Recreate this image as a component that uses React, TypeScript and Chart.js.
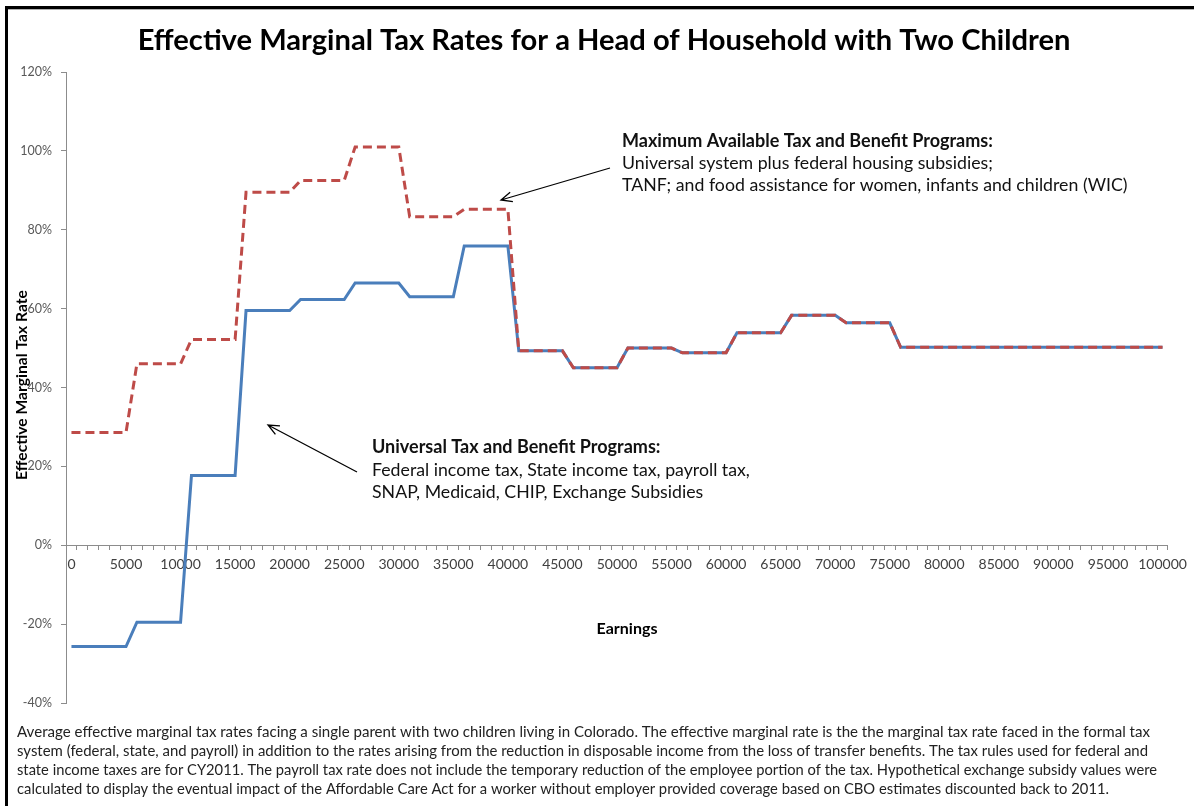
import { useEffect, useRef } from 'react';
import { Chart, registerables } from 'chart.js';

Chart.register(...registerables);

const TITLE = 'Effective Marginal Tax Rates for a Head of Household with Two Children';
const Y_TITLE = 'Effective Marginal Tax Rate';
const X_TITLE = 'Earnings';

// Categories: earnings in dollars
const earnings: number[] = Array.from({ length: 101 }, (_, i) => i * 1000);

// Universal Tax and Benefit Programs (%)
const universal: number[] = [
  -25.7, -25.7, -25.7, -25.7, -25.7, -25.7,
  -19.5, -19.5, -19.5, -19.5, -19.5,
  17.7, 17.7, 17.7, 17.7, 17.7,
  59.5, 59.5, 59.5, 59.5, 59.5,
  62.3, 62.3, 62.3, 62.3, 62.3,
  66.5, 66.5, 66.5, 66.5, 66.5,
  63.0, 63.0, 63.0, 63.0, 63.0,
  75.9, 75.9, 75.9, 75.9, 75.9,
  49.3, 49.3, 49.3, 49.3, 49.3,
  45.0, 45.0, 45.0, 45.0, 45.0,
  50.0, 50.0, 50.0, 50.0, 50.0,
  48.8, 48.8, 48.8, 48.8, 48.8,
  53.9, 53.9, 53.9, 53.9, 53.9,
  58.3, 58.3, 58.3, 58.3, 58.3,
  56.4, 56.4, 56.4, 56.4, 56.4,
  50.2, 50.2, 50.2, 50.2, 50.2, 50.2, 50.2, 50.2, 50.2, 50.2,
  50.2, 50.2, 50.2, 50.2, 50.2, 50.2, 50.2, 50.2, 50.2, 50.2,
  50.2, 50.2, 50.2, 50.2, 50.2,
];

// Maximum Available Tax and Benefit Programs (%)
const maximum: number[] = [
  28.6, 28.6, 28.6, 28.6, 28.6, 28.6,
  46.0, 46.0, 46.0, 46.0, 46.0,
  52.2, 52.2, 52.2, 52.2, 52.2,
  89.5, 89.5, 89.5, 89.5, 89.5,
  92.5, 92.5, 92.5, 92.5, 92.5,
  101.0, 101.0, 101.0, 101.0, 101.0,
  83.3, 83.3, 83.3, 83.3, 83.3,
  85.2, 85.2, 85.2, 85.2, 85.2,
  49.3, 49.3, 49.3, 49.3, 49.3,
  45.0, 45.0, 45.0, 45.0, 45.0,
  50.0, 50.0, 50.0, 50.0, 50.0,
  48.8, 48.8, 48.8, 48.8, 48.8,
  53.9, 53.9, 53.9, 53.9, 53.9,
  58.3, 58.3, 58.3, 58.3, 58.3,
  56.4, 56.4, 56.4, 56.4, 56.4,
  50.2, 50.2, 50.2, 50.2, 50.2, 50.2, 50.2, 50.2, 50.2, 50.2,
  50.2, 50.2, 50.2, 50.2, 50.2, 50.2, 50.2, 50.2, 50.2, 50.2,
  50.2, 50.2, 50.2, 50.2, 50.2,
];

const Y_MIN = -40;
const Y_MAX = 120;
const Y_STEP = 20;
const X_LABEL_EVERY = 5;

const annotationMax: string[] = [
  'Maximum Available Tax and Benefit Programs:',
  'Universal system plus federal housing subsidies;',
  'TANF; and food assistance for women, infants and children (WIC)',
];
const annotationUni: string[] = [
  'Universal Tax and Benefit Programs:',
  'Federal income tax, State income tax, payroll tax,',
  'SNAP, Medicaid, CHIP, Exchange Subsidies',
];
const footnote: string[] = [
  'Average effective marginal tax rates facing a single parent with two children living in Colorado. The effective marginal rate is the the marginal tax rate faced in the formal tax',
  'system (federal, state, and payroll) in addition to the rates arising from the reduction in disposable income from the loss of transfer benefits. The tax rules used for federal and',
  'state income taxes are for CY2011. The payroll tax rate does not include the temporary reduction of the employee portion of the tax. Hypothetical exchange subsidy values were',
  'calculated to display the eventual impact of the Affordable Care Act for a worker without employer provided coverage based on CBO estimates discounted back to 2011.',
];
const footnoteWidths: number[] = [1133, 1131, 1140, 1092];

const FONT = 'Lato, "Open Sans", sans-serif';
const BLUE = '#4A7EBB';
const RED = '#BE4B48';
const AXIS = '#8C8C8C';

function fitSize(ctx: CanvasRenderingContext2D, text: string, weight: string, target: number): number {
  ctx.font = `${weight} 100px ${FONT}`;
  const w = ctx.measureText(text).width;
  return (100 * target) / w;
}

function arrow(ctx: CanvasRenderingContext2D, x1: number, y1: number, x2: number, y2: number) {
  ctx.beginPath();
  ctx.moveTo(x1, y1);
  ctx.lineTo(x2, y2);
  const a = Math.atan2(y2 - y1, x2 - x1);
  const L = 12;
  const s = 0.42;
  ctx.moveTo(x2 - L * Math.cos(a - s), y2 - L * Math.sin(a - s));
  ctx.lineTo(x2, y2);
  ctx.lineTo(x2 - L * Math.cos(a + s), y2 - L * Math.sin(a + s));
  ctx.stroke();
}

const decorPlugin = {
  id: 'decor',
  afterDraw(chart: any) {
    const ctx: CanvasRenderingContext2D = chart.ctx;
    ctx.save();
    // frame
    ctx.fillStyle = '#000';
    ctx.fillRect(5, 6, 1189, 3);
    ctx.fillRect(5, 6, 3, 800);
    ctx.fillStyle = '#b0b0b0';
    ctx.fillRect(8, 9, 1186, 1);

    ctx.fillStyle = '#000';
    ctx.textBaseline = 'alphabetic';
    ctx.textAlign = 'left';

    // title
    const tSize = fitSize(ctx, TITLE, 'bold', 933);
    ctx.font = `bold ${tSize}px ${FONT}`;
    ctx.textAlign = 'center';
    ctx.fillText(TITLE, 604, 50);

    // annotations
    const bSize = fitSize(ctx, annotationMax[0], 'bold', 371);
    const rSize = fitSize(ctx, annotationMax[2], 'normal', 506);
    ctx.textAlign = 'left';
    ctx.fillStyle = '#111';
    const drawBlock = (lines: string[], x: number, y0: number, pitch: number) => {
      lines.forEach((line, i) => {
        ctx.font = i === 0 ? `bold ${bSize}px ${FONT}` : `${rSize}px ${FONT}`;
        ctx.fillText(line, x, y0 + i * pitch);
      });
    };
    drawBlock(annotationMax, 622, 147, 22);
    drawBlock(annotationUni, 372, 453, 22.5);

    // arrows
    ctx.strokeStyle = '#000';
    ctx.lineWidth = 1.3;
    arrow(ctx, 610, 168, 501, 200);
    arrow(ctx, 357, 472, 268, 425);

    // x-axis title
    const eSize = fitSize(ctx, X_TITLE, 'bold', 61);
    ctx.font = `bold ${eSize}px ${FONT}`;
    ctx.textAlign = 'center';
    ctx.fillStyle = '#000';
    ctx.fillText(X_TITLE, 627, 634);

    // y-axis title (rotated)
    const ySize = fitSize(ctx, Y_TITLE, 'bold', 190);
    ctx.save();
    ctx.translate(22, 385);
    ctx.rotate(-Math.PI / 2);
    ctx.font = `bold ${ySize}px ${FONT}`;
    ctx.textAlign = 'center';
    ctx.textBaseline = 'middle';
    ctx.fillText(Y_TITLE, 0, 0);
    ctx.restore();

    // footnote
    ctx.font = `15.3px ${FONT}`;
    ctx.textAlign = 'left';
    ctx.textBaseline = 'alphabetic';
    ctx.fillStyle = '#222';
    footnote.forEach((line, i) => ctx.fillText(line, 17, 737 + i * 19, footnoteWidths[i]));

    ctx.restore();
  },
};

export default function App() {
  const ref = useRef<HTMLCanvasElement>(null);

  useEffect(() => {
    const canvas = ref.current;
    if (!canvas) return;
    const chart = new Chart(canvas, {
      type: 'line',
      data: {
        labels: earnings.map(String),
        datasets: [
          {
            label: 'Maximum Available Tax and Benefit Programs',
            data: maximum,
            borderColor: RED,
            backgroundColor: RED,
            borderWidth: 3,
            borderDash: [9, 5],
            pointRadius: 0,
            tension: 0,
            fill: false,
            order: 0,
          },
          {
            label: 'Universal Tax and Benefit Programs',
            data: universal,
            borderColor: BLUE,
            backgroundColor: BLUE,
            borderWidth: 3,
            pointRadius: 0,
            tension: 0,
            fill: false,
            order: 1,
          },
        ],
      },
      options: {
        responsive: false,
        animation: false,
        devicePixelRatio: 1,
        layout: { padding: { left: 0, right: 26, top: 72, bottom: 103 } },
        plugins: {
          legend: { display: false },
          tooltip: { enabled: false },
          title: { display: false },
        },
        scales: {
          x: {
            type: 'category',
            offset: true,
            position: { y: 0 } as any,
            border: { color: AXIS, width: 1 },
            grid: {
              display: true,
              drawOnChartArea: false,
              drawTicks: true,
              tickLength: 4,
              offset: true,
              color: AXIS,
            },
            ticks: {
              autoSkip: false,
              maxRotation: 0,
              minRotation: 0,
              padding: 7,
              color: '#404040',
              font: { family: FONT, size: 14 },
              callback: (_v: any, i: number) => (i % X_LABEL_EVERY === 0 ? String(earnings[i]) : ''),
            },
          },
          y: {
            type: 'linear',
            min: Y_MIN,
            max: Y_MAX,
            afterFit: (s: any) => {
              s.width = 66;
            },
            border: { color: AXIS, width: 1 },
            grid: {
              display: true,
              drawOnChartArea: false,
              drawTicks: true,
              tickLength: 5,
              color: AXIS,
            },
            ticks: {
              stepSize: Y_STEP,
              padding: 9,
              color: '#595959',
              font: { family: FONT, size: 12.5 },
              callback: (v: any) => `${v}%`,
            },
          },
        },
      },
      plugins: [decorPlugin],
    } as any);
    return () => chart.destroy();
  }, []);

  return (
    <div style={{ position: 'absolute', left: 0, top: 0, width: 1194, height: 806, background: '#fff' }}>
      <canvas ref={ref} width={1194} height={806} style={{ display: 'block' }} />
    </div>
  );
}
